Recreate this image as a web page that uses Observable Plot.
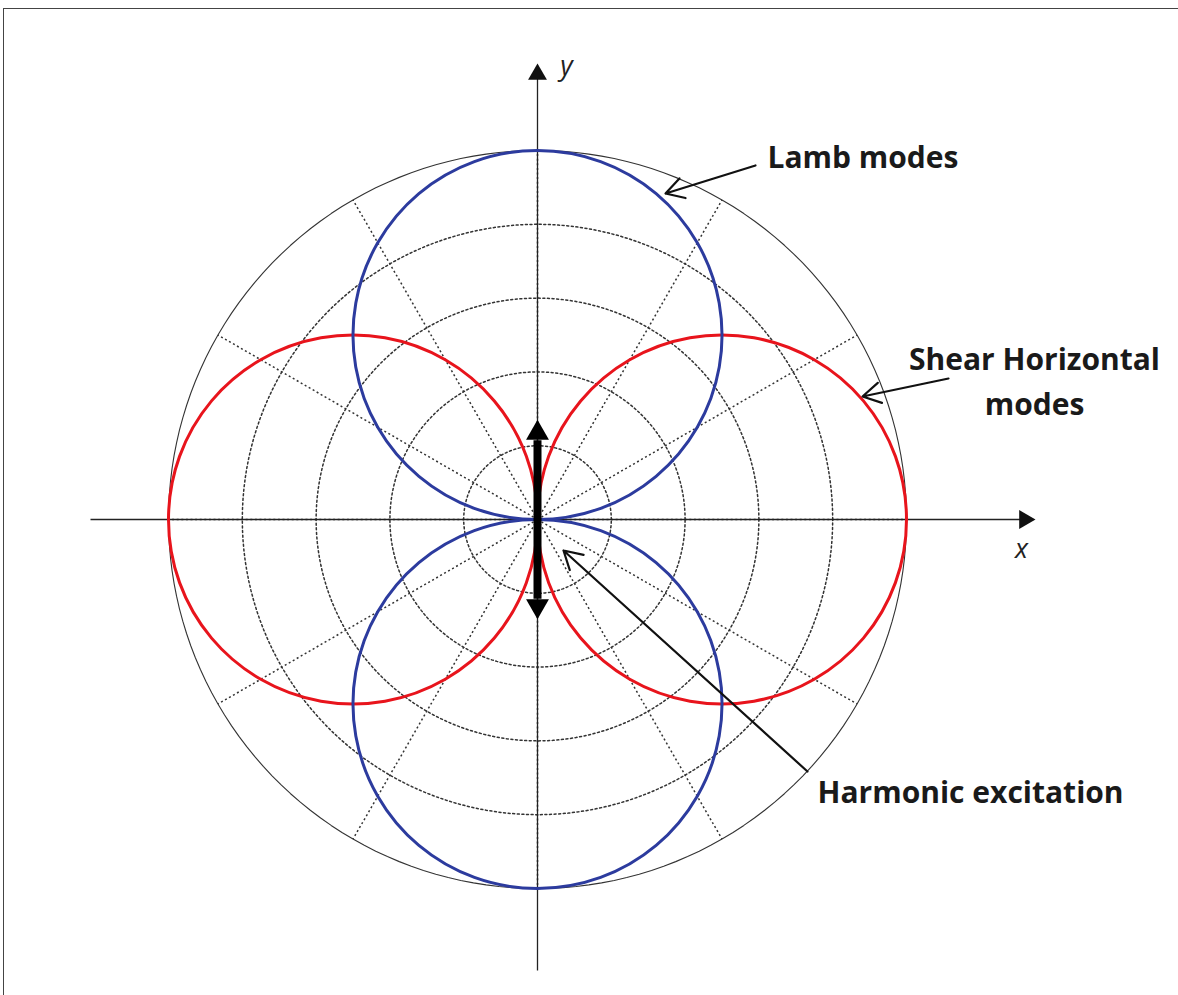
<!DOCTYPE html>
<html><head><meta charset="utf-8">
<script src="https://cdn.jsdelivr.net/npm/d3@7"></script>
<script src="https://cdn.jsdelivr.net/npm/@observablehq/plot@0.6"></script>
<style>
body{margin:0;background:#fff;}
#wrap{position:relative;width:1178px;height:995px;overflow:hidden;background:#fff;}
#frame{position:absolute;left:3px;top:8px;right:-5px;bottom:-5px;border-top:1.5px solid #444;border-left:1.5px solid #444;pointer-events:none;}
</style></head><body>
<div id="wrap"><div id="chart"></div><div id="frame"></div></div>
<script>
// ---- data ----
const angles   = [0,10,20,30,40,50,60,70,80,90,100,110,120,130,140,150,160,170,180,190,200,210,220,230,240,250,260,270,280,290,300,310,320,330,340,350];
const shGain   = [1.000,0.985,0.940,0.866,0.766,0.643,0.500,0.342,0.174,0.000,0.174,0.342,0.500,0.643,0.766,0.866,0.940,0.985,1.000,0.985,0.940,0.866,0.766,0.643,0.500,0.342,0.174,0.000,0.174,0.342,0.500,0.643,0.766,0.866,0.940,0.985];
const lambGain = [0.000,0.174,0.342,0.500,0.643,0.766,0.866,0.940,0.985,1.000,0.985,0.940,0.866,0.766,0.643,0.500,0.342,0.174,0.000,0.174,0.342,0.500,0.643,0.766,0.866,0.940,0.985,1.000,0.985,0.940,0.866,0.766,0.643,0.500,0.342,0.174];
const gridRings = [0.2,0.4,0.6,0.8];
const outerRing = [1.0];
const spokeAngles = [0,30,60,90,120,150,180,210,240,270,300,330];
const excitation = [-0.27,0.27];
const labelTexts = ["Lamb modes","Shear Horizontal\nmodes","Harmonic excitation"];

// ---- layout ----
const W = 1178, H = 995, CX = 537, CY = 519, R = 369;
const xd = [-CX/R, (W-CX)/R], yd = [(CY-H)/R, CY/R];
const px = v => (v-CX)/R, py = v => (CY-v)/R;
const rad = d => d*Math.PI/180;

const polar = (a,r) => ({x: r*Math.cos(rad(a)), y: r*Math.sin(rad(a))});

// lobes
const shRows = angles.map((a,i)=>{
  const right = (a>=270 || a<90);
  return {...polar(a, shGain[i]), lobe: right ? "SH-right" : "SH-left", k: right ? (a>=270 ? a-360 : a) : a};
}).sort((p,q)=>d3.ascending(p.lobe,q.lobe)||p.k-q.k);
const lambRows = angles.map((a,i)=>({...polar(a, lambGain[i]), lobe: a<180 ? "L-up" : "L-down", k: a}))
  .sort((p,q)=>d3.ascending(p.lobe,q.lobe)||p.k-q.k);

const ringPts = (radii) => radii.flatMap(r => d3.range(0, 362, 2).map(a => ({...polar(a,r), ring: r})));
const spokes = spokeAngles.map(a => ({x1:0,y1:0,x2:Math.cos(rad(a)),y2:Math.sin(rad(a))}));

const annotations = [
  {x1: px(755), y1: py(165), x2: px(665), y2: py(193)},
  {x1: px(948), y1: py(378), x2: px(862), y2: py(396)},
  {x1: px(807), y1: py(771), x2: px(563), y2: py(550)}
];
const labels = [
  {text: labelTexts[0], x: px(767), y: py(158), anchor: "start"},
  {text: labelTexts[1], x: px(1034), y: py(378), anchor: "middle"},
  {text: labelTexts[2], x: px(817), y: py(793), anchor: "start"}
];

const font = "'Open Sans', Lato, sans-serif";
const chart = Plot.plot({
  width: W, height: H, margin: 0,
  x: {domain: xd, axis: null},
  y: {domain: yd, axis: null},
  style: {background: "#fff"},
  marks: [
    Plot.line(ringPts(gridRings), {x:"x", y:"y", z:"ring", stroke:"#333", strokeWidth:1.5, strokeDasharray:"2,2.6"}),
    Plot.link(spokes, {x1:"x1", y1:"y1", x2:"x2", y2:"y2", stroke:"#333", strokeWidth:1.5, strokeDasharray:"2,2.6"}),
    Plot.line(ringPts(outerRing), {x:"x", y:"y", z:"ring", stroke:"#333", strokeWidth:1.1}),
    // axes
    Plot.link([{x1: px(90), x2: px(1033), y1: 0, y2: 0}], {x1:"x1", x2:"x2", y1:"y1", y2:"y2", stroke:"#222", strokeWidth:1.3}),
    Plot.link([{x1: 0, x2: 0, y1: py(970), y2: py(65)}], {x1:"x1", x2:"x2", y1:"y1", y2:"y2", stroke:"#222", strokeWidth:1.3}),
    Plot.dot([{x: px(1035), y: 0}], {x:"x", y:"y", symbol:"triangle", r:7, fill:"#111", stroke:"none", rotate:90, dx:-10.9}),
    Plot.dot([{x: 0, y: py(63)}], {x:"x", y:"y", symbol:"triangle", r:7, fill:"#111", stroke:"none", dy:10.9}),
    Plot.text([{x: px(1021), y: py(549), t:"x"}], {x:"x", y:"y", text:"t", fontSize:27, fontStyle:"italic", fontFamily:font, fill:"#222"}),
    Plot.text([{x: px(566), y: py(66), t:"y"}], {x:"x", y:"y", text:"t", fontSize:27, fontStyle:"italic", fontFamily:font, fill:"#222"}),
    // lobes
    Plot.line(shRows, {x:"x", y:"y", z:"lobe", curve:"catmull-rom-closed", stroke:"#e8141c", strokeWidth:3}),
    Plot.line(lambRows, {x:"x", y:"y", z:"lobe", curve:"catmull-rom-closed", stroke:"#2c3b9e", strokeWidth:3}),
    // harmonic excitation double arrow
    Plot.link([{x1:0, x2:0, y1: excitation[0]+0.055, y2: excitation[1]-0.055}], {x1:"x1", x2:"x2", y1:"y1", y2:"y2", stroke:"#000", strokeWidth:8}),
    Plot.dot([{x:0, y:excitation[1]}], {x:"x", y:"y", symbol:"triangle", r:8.5, fill:"#000", stroke:"none", dy:13.2}),
    Plot.dot([{x:0, y:excitation[0]}], {x:"x", y:"y", symbol:"triangle", r:8.5, fill:"#000", stroke:"none", rotate:180, dy:-13.2}),
    // annotations
    Plot.arrow(annotations, {x1:"x1", y1:"y1", x2:"x2", y2:"y2", stroke:"#111", strokeWidth:2.2, headLength:14, bend:0, insetStart:0, insetEnd:0}),
    Plot.text(labels.filter(d=>d.anchor==="start"), {x:"x", y:"y", text:"text", textAnchor:"start", fontSize:30, fontWeight:"bold", fontFamily:font, fill:"#1a1a1a"}),
    Plot.text(labels.filter(d=>d.anchor==="middle"), {x:"x", y:"y", text:"text", textAnchor:"middle", lineHeight:1.5, fontSize:30, fontWeight:"bold", fontFamily:font, fill:"#1a1a1a"})
  ]
});
document.getElementById("chart").appendChild(chart);
</script>
</body></html>
